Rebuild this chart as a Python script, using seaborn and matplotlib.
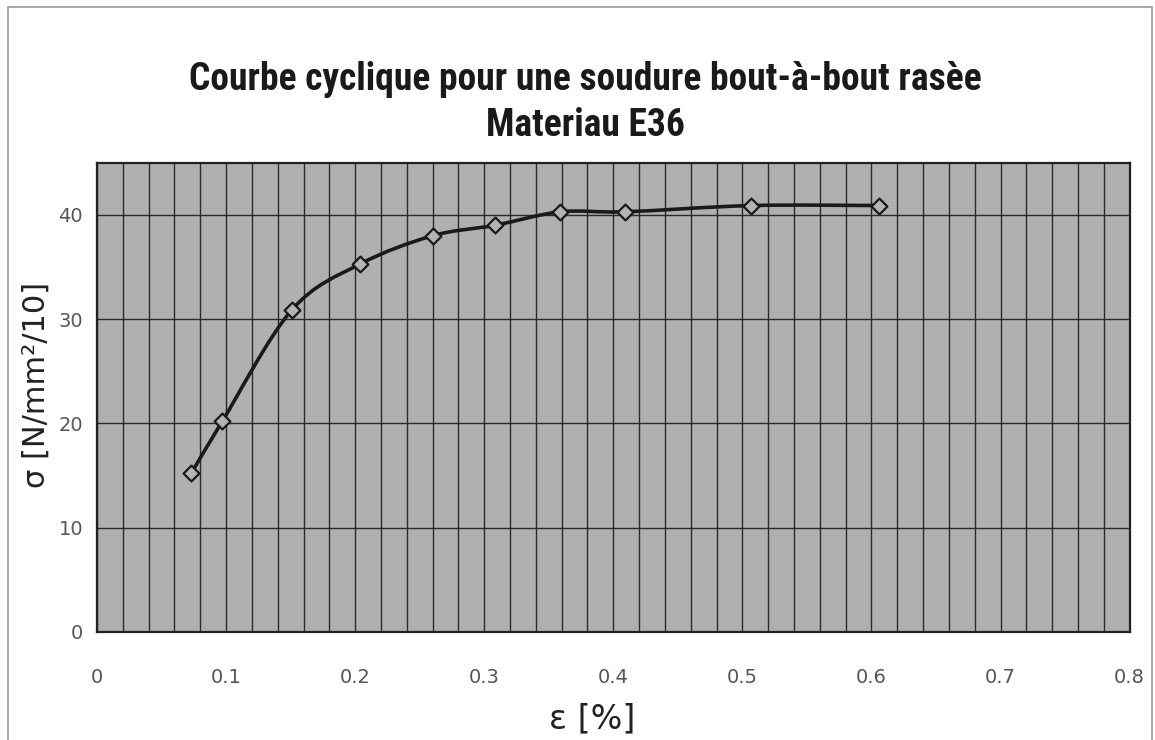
import numpy as np
import matplotlib
matplotlib.use("Agg")
import matplotlib.pyplot as plt
import seaborn as sns
from matplotlib import font_manager
from matplotlib.path import Path
from matplotlib.patches import PathPatch, Rectangle

# values
strain = [0.073, 0.097, 0.151, 0.204, 0.260, 0.308, 0.359, 0.409, 0.507, 0.606]
stress = [15.2, 20.2, 30.9, 35.3, 38.0, 39.0, 40.3, 40.3, 40.9, 40.9]
x_ticks = [0, 0.1, 0.2, 0.3, 0.4, 0.5, 0.6, 0.7, 0.8]
x_labels = ["0", "0.1", "0.2", "0.3", "0.4", "0.5", "0.6", "0.7", "0.8"]
y_ticks = [0, 10, 20, 30, 40]
title_1 = "Courbe cyclique pour une soudure bout-à-bout rasèe"
title_2 = "Materiau E36"

sns.set_style("white")
plt.rcParams["font.family"] = ["DejaVu Sans"]

# pick a narrow bold font if one is there
installed = {f.name for f in font_manager.fontManager.ttflist}
title_font = "DejaVu Sans"
for name in ["Liberation Sans Narrow", "Roboto Condensed", "DejaVu Sans Condensed", "Roboto"]:
    if name in installed:
        title_font = name
        break

fig = plt.figure(figsize=(11.55, 7.4), dpi=100)
ax = fig.add_axes([0.084, 0.146, 0.894, 0.634])
ax.set_facecolor("#b0b0b0")

# Excel-like smoothed line (cubic bezier through the points)
pts = np.column_stack([strain, stress])
verts = [pts[0]]
codes = [Path.MOVETO]
for i in range(len(pts) - 1):
    p0 = pts[max(i - 1, 0)]
    p1 = pts[i]
    p2 = pts[i + 1]
    p3 = pts[min(i + 2, len(pts) - 1)]
    verts += [p1 + (p2 - p0) / 6, p2 - (p3 - p1) / 6, p2]
    codes += [Path.CURVE4] * 3
ax.add_patch(PathPatch(Path(verts, codes), fill=False, lw=2.6,
                       edgecolor="#1a1a1a", zorder=3))

sns.scatterplot(x=strain, y=stress, marker="D", s=65, color="#b4b4b4",
                edgecolor="#1a1a1a", linewidth=1.6, ax=ax, zorder=4)

ax.set_xlim(0, 0.8)
ax.set_ylim(0, 45)
ax.set_xticks(x_ticks)
ax.set_xticklabels(x_labels)
ax.set_yticks(y_ticks)
ax.set_xticks(np.arange(0, 0.801, 0.02), minor=True)
ax.grid(which="major", axis="both", color="#2a2a2a", lw=1.0)
ax.grid(which="minor", axis="x", color="#2a2a2a", lw=1.0)
ax.set_axisbelow(True)
ax.tick_params(which="major", direction="out", length=6, width=1,
               labelsize=14, labelcolor="#555555", color="#333333")
ax.tick_params(axis="x", pad=20)
ax.tick_params(axis="y", pad=4)
ax.tick_params(which="minor", length=0)
for s in ax.spines.values():
    s.set_color("#222222")
    s.set_linewidth(1.6)

t1 = fig.text(0.507, 0.893, title_1, ha="center", va="center", fontsize=27,
              fontweight="bold", family=title_font, color="#1a1a1a")
t2 = fig.text(0.507, 0.831, title_2, ha="center", va="center", fontsize=27,
              fontweight="bold", family=title_font, color="#1a1a1a")
# fit the title width to the reference (about 828 px)
r = fig.canvas.get_renderer()
w = t1.get_window_extent(r).width
size = min(27, 27 * 828 / w)
t1.set_fontsize(size)
t2.set_fontsize(size)

fig.text(0.031, 0.48, "σ [N/mm²/10]", rotation=90, ha="center", va="center",
         fontsize=22, color="#222222")
fig.text(0.513, 0.028, "ε [%]", ha="center", va="center",
         fontsize=24, color="#222222")

# faint border of the scanned chart area
fig.patches.append(Rectangle((0.007, -0.01), 0.99, 1.0, transform=fig.transFigure,
                             fill=False, edgecolor="#9a9a9a", lw=1.2))

plt.savefig("out.png", dpi=100)
